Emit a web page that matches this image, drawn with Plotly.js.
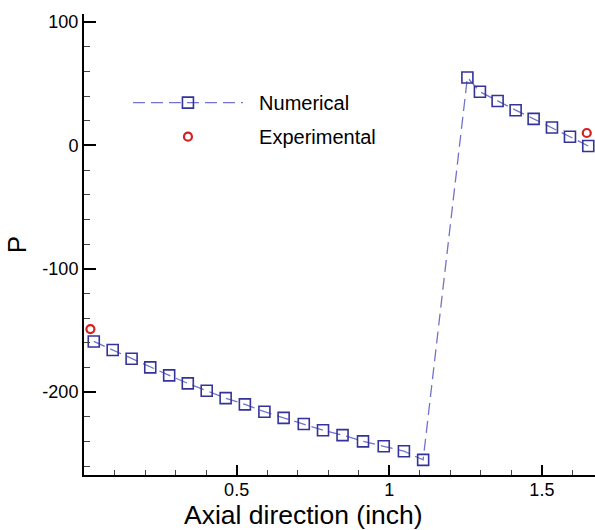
<!DOCTYPE html>
<html>
<head>
<meta charset="utf-8">
<script src="https://cdn.plot.ly/plotly-3.0.1.min.js"></script>
<style>html,body{margin:0;padding:0;background:#fff;}#chart{width:595px;height:530px;}</style>
</head>
<body>
<div id="chart"></div>
<script>
// Numerical results (squares)
const numX = [0.032,0.094,0.156,0.217,0.279,0.340,0.402,0.464,0.527,0.591,0.654,0.720,0.783,0.847,0.914,0.982,1.048,1.111,
              1.256,1.297,1.355,1.414,1.473,1.533,1.592,1.652];
const numY = [-159,-166,-173,-180,-186.5,-193,-199,-205,-210,-216,-221,-226,-231,-235,-240,-244,-248,-255,
              55,43.5,36,28.5,21.5,14.5,7,-0.5];
// Experimental results (circles)
const expX = [0.021, 1.647];
const expY = [-149, 10];
// Tick labels
const xTickVals = [0.5, 1, 1.5];
const xTickText = ["0.5", "1", "1.5"];
const yTickVals = [100, 0, -100, -200];
const yTickText = ["100", "0", "-100", "-200"];

const font = "Liberation Sans, Arial, Helvetica, sans-serif";

const traces = [
  {
    x: numX, y: numY, name: "  Numerical", type: "scatter", mode: "lines+markers",
    legendgroup: "a",
    line: {color: "#7272cc", width: 1.3, dash: "12px,6px"},
    marker: {symbol: "square-open", size: 11, color: "#33339a", line: {width: 1.6, color: "#33339a"}}
  },
  {
    x: expX, y: expY, name: "  Experimental", type: "scatter", mode: "markers",
    legendgroup: "b",
    marker: {symbol: "circle-open", size: 8, color: "#d42020", line: {width: 2.2, color: "#d42020"}}
  }
];

const layout = {
  width: 595, height: 530,
  margin: {l: 84, r: 0, t: 14, b: 55},
  paper_bgcolor: "#fff", plot_bgcolor: "#fff",
  font: {family: font, color: "#000", size: 18},
  showlegend: true,
  legend: {
    x: 0.086, y: 0.85, xanchor: "left", yanchor: "top",
    bgcolor: "rgba(0,0,0,0)", font: {size: 20, family: font},
    itemwidth: 110, tracegroupgap: 5, traceorder: "grouped"
  },
  xaxis: {
    range: [0, 1.674], showgrid: false, zeroline: false,
    showline: true, linecolor: "#000", linewidth: 2,
    tickmode: "array", tickvals: xTickVals, ticktext: xTickText,
    ticks: "inside", ticklen: 10, tickwidth: 2, tickcolor: "#000",
    tickfont: {size: 18, family: font}, ticklabelstandoff: -3,
    minor: {dtick: 0.1, tick0: 0, ticks: "inside", ticklen: 5, tickwidth: 1, tickcolor: "#444", showgrid: false},
    title: {text: ""}
  },
  yaxis: {
    range: [-267.3, 106.5], showgrid: false, zeroline: false,
    showline: true, linecolor: "#000", linewidth: 2,
    tickmode: "array", tickvals: yTickVals, ticktext: yTickText,
    ticks: "inside", ticklen: 12, tickwidth: 2, tickcolor: "#000",
    tickfont: {size: 18, family: font},
    minor: {dtick: 20, tick0: 0, ticks: "inside", ticklen: 6, tickwidth: 1, tickcolor: "#444", showgrid: false},
    title: {text: "P", font: {size: 26, family: font}, standoff: 8}
  },
  annotations: [
    {text: "Axial direction (inch)", xref: "paper", yref: "paper", x: 0.4305, y: -0.087,
     xanchor: "center", yanchor: "middle", showarrow: false, font: {size: 26.5, family: font}}
  ]
};

Plotly.newPlot("chart", traces, layout, {displayModeBar: false, staticPlot: true});
</script>
</body>
</html>
